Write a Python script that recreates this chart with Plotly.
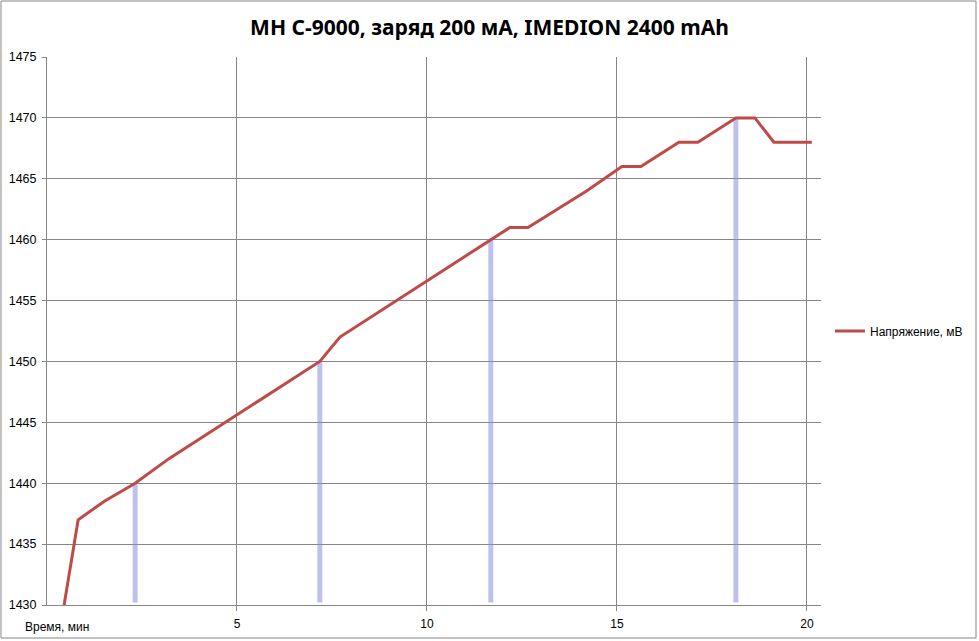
import plotly.graph_objects as go

# Time, minutes
time_min = [0.45, 0.82, 1.5, 2.32, 3.2, 4.2, 5.2, 6.2, 7.18, 7.71, 8.7, 9.7, 10.7,
            11.68, 12.18, 12.66, 13.7, 14.2, 15.13, 15.63, 16.63, 17.13, 18.13,
            18.63, 19.13, 20.13]
# Voltage, mV
voltage_mv = [1430, 1437, 1438.5, 1440, 1442, 1444, 1446, 1448, 1450, 1452, 1454,
              1456, 1458, 1460, 1461, 1461, 1463, 1464, 1466, 1466, 1468, 1468,
              1470, 1470, 1468, 1468]

# Highlight markers (vertical bars)
mark_times = [2.32, 7.18, 11.68, 18.13]
mark_values = [1440, 1450, 1460, 1470]

x_ticks = [5, 10, 15, 20]
y_ticks = [1430, 1435, 1440, 1445, 1450, 1455, 1460, 1465, 1470, 1475]

title_text = "МН C-9000, заряд 200 мА, IMEDION 2400 mAh"
series_name = "Напряжение, мВ"
x_label = "Время, мин"

fig = go.Figure()

for t, v in zip(mark_times, mark_values):
    fig.add_trace(go.Scatter(
        x=[t, t], y=[y_ticks[0] + 0.2, v], mode="lines",
        line=dict(color="rgba(140,140,225,0.55)", width=5),
        showlegend=False, hoverinfo="skip"))

fig.add_trace(go.Scatter(
    x=time_min, y=voltage_mv, mode="lines", name=series_name,
    line=dict(color="#BE4B48", width=3)))

grid = "#868686"
fig.update_layout(
    width=979, height=641,
    margin=dict(l=47, r=158, t=57, b=36, autoexpand=False),
    plot_bgcolor="white", paper_bgcolor="white",
    title=dict(text="<b>" + title_text + "</b>", x=0.5, xanchor="center",
               y=1 - 28 / 641, yanchor="middle",
               font=dict(family="Noto Sans", size=21, color="black")),
    font=dict(family="Liberation Sans", size=12, color="black"),
    xaxis=dict(range=[0, 20.37], tickvals=x_ticks, showgrid=True, gridcolor=grid,
               gridwidth=1, showline=True, linecolor=grid, linewidth=1,
               ticks="outside", ticklen=5, tickcolor=grid, zeroline=False,
               automargin=False, ticklabelstandoff=3, tickfont=dict(size=12)),
    yaxis=dict(range=[1430, 1475], tickvals=y_ticks, showgrid=True, gridcolor=grid,
               gridwidth=1, showline=True, linecolor=grid, linewidth=1,
               ticks="outside", ticklen=4, tickcolor=grid, zeroline=False,
               automargin=False, ticklabelstandoff=3, tickfont=dict(size=12.5)),
    legend=dict(x=830 / 979, y=0.5, xref="container", xanchor="left",
                yanchor="middle", font=dict(size=12), bgcolor="rgba(0,0,0,0)"),
    showlegend=True,
    annotations=[dict(text=x_label, xref="paper", yref="paper", x=0, y=0,
                      xanchor="left", yanchor="top", xshift=-24, yshift=-13,
                      showarrow=False, font=dict(size=12))],
    shapes=[dict(type="rect", xref="paper", yref="paper",
                 x0=-46 / 774, x1=929 / 774, y0=-33 / 548, y1=604 / 548,
                 line=dict(color=grid, width=1), fillcolor="rgba(0,0,0,0)",
                 layer="below")],
)

fig.write_html("out.html", config={"displayModeBar": False},
               post_script="document.body.style.margin='0px';")
